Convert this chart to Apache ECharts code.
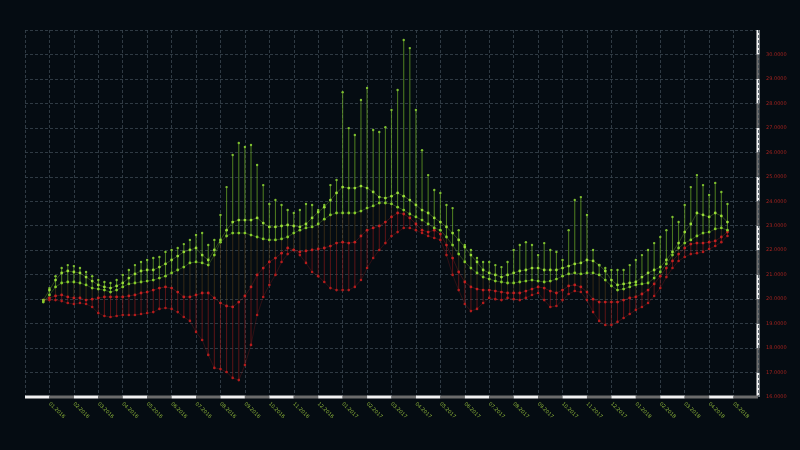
<!DOCTYPE html>
<html>
<head>
<meta charset="utf-8">
<script src="https://cdn.jsdelivr.net/npm/echarts@6/dist/echarts.min.js"></script>
<style>
html,body{margin:0;padding:0;background:#050c12;}
#c{width:800px;height:450px;}
</style>
</head>
<body>
<div id="c"></div>
<script>
// x tick labels (one per vertical grid line, 4 samples per interval)
const tickLabels = ['01.2016','02.2016','03.2016','04.2016','05.2016','06.2016','07.2016','08.2016','09.2016','10.2016',
  '11.2016','12.2016','01.2017','02.2017','03.2017','04.2017','05.2017','06.2017','07.2017','08.2017',
  '09.2017','10.2017','11.2017','12.2017','01.2018','02.2018','03.2018','04.2018','05.2018'];
const samplesPerTick = 4;
const startIndex = 3;

// green spiky highs
const greenHigh = [19.96,20.45,20.94,21.27,21.39,21.35,21.27,21.11,20.94,20.78,
  20.70,20.66,20.78,20.99,21.19,21.39,21.52,21.60,21.68,21.72,
  21.93,22.01,22.09,22.25,22.42,22.62,22.70,22.21,22.42,23.44,
  24.58,25.89,26.38,26.22,26.30,25.48,24.66,23.89,24.05,23.85,
  23.64,23.52,23.64,23.89,23.85,23.64,23.85,24.66,24.87,28.46,
  26.99,26.71,28.14,28.63,26.91,26.83,27.03,27.73,28.55,30.59,
  30.26,27.73,26.09,25.07,24.46,24.34,23.85,23.72,22.82,22.21,
  22.01,21.68,21.52,21.52,21.39,21.31,21.52,22.01,22.21,22.33,
  22.21,21.80,22.29,22.01,21.93,21.60,22.82,24.05,24.17,23.44,
  22.01,21.39,21.27,21.19,21.19,21.19,21.39,21.60,21.80,22.01,
  22.29,22.54,22.82,23.36,23.15,23.85,24.58,25.07,24.66,24.26,
  24.75,24.38,23.89];
// upper green line
const greenUpper = [19.96,20.37,20.78,21.07,21.15,21.11,21.07,20.90,20.74,20.58,
  20.50,20.45,20.54,20.66,20.86,21.03,21.15,21.19,21.19,21.31,
  21.44,21.60,21.76,21.93,22.01,22.09,21.80,21.60,22.01,22.42,
  22.82,23.15,23.23,23.23,23.23,23.32,23.11,22.95,22.95,22.99,
  23.03,22.99,22.95,23.07,23.32,23.56,23.76,24.05,24.34,24.58,
  24.54,24.54,24.62,24.54,24.38,24.17,24.13,24.21,24.34,24.21,
  24.05,23.85,23.64,23.52,23.32,23.15,22.95,22.70,22.42,22.13,
  21.80,21.52,21.19,21.07,20.99,20.90,20.99,21.07,21.15,21.19,
  21.27,21.27,21.19,21.19,21.19,21.27,21.35,21.44,21.48,21.60,
  21.56,21.39,21.15,20.78,20.58,20.62,20.66,20.70,20.90,21.07,
  21.19,21.31,21.60,21.93,22.29,22.74,23.07,23.52,23.44,23.36,
  23.52,23.40,23.15];
// lower green line
const greenLower = [19.88,20.17,20.50,20.66,20.70,20.70,20.66,20.58,20.45,20.41,
  20.37,20.29,20.37,20.50,20.62,20.66,20.70,20.74,20.78,20.86,
  20.94,21.07,21.19,21.31,21.48,21.52,21.48,21.39,21.80,22.33,
  22.58,22.70,22.70,22.70,22.62,22.54,22.46,22.42,22.42,22.46,
  22.54,22.70,22.82,22.91,22.95,23.07,23.27,23.44,23.52,23.52,
  23.52,23.52,23.60,23.72,23.81,23.93,23.93,23.89,23.76,23.64,
  23.48,23.36,23.23,23.07,22.91,22.82,22.54,22.21,21.84,21.52,
  21.27,21.07,20.90,20.82,20.74,20.70,20.66,20.66,20.70,20.74,
  20.78,20.74,20.70,20.74,20.82,20.94,21.03,21.07,21.03,21.07,
  21.07,20.99,20.78,20.54,20.37,20.41,20.50,20.58,20.62,20.66,
  20.86,21.11,21.44,21.80,22.09,22.29,22.42,22.58,22.70,22.74,
  22.87,22.91,22.82];
// upper red line
const redUpper = [19.96,20.05,20.13,20.17,20.09,20.05,20.05,19.96,20.00,20.05,
  20.09,20.09,20.09,20.09,20.13,20.17,20.25,20.29,20.37,20.45,
  20.50,20.45,20.29,20.09,20.09,20.17,20.25,20.25,20.05,19.84,
  19.72,19.68,19.88,20.13,20.50,20.99,21.27,21.52,21.68,21.88,
  22.09,22.01,21.93,21.97,22.01,22.05,22.09,22.17,22.29,22.33,
  22.29,22.33,22.58,22.82,22.91,22.99,23.15,23.36,23.52,23.48,
  23.32,23.07,22.82,22.74,22.82,22.66,22.21,21.68,21.11,20.70,
  20.50,20.41,20.37,20.37,20.33,20.29,20.25,20.25,20.25,20.33,
  20.41,20.50,20.45,20.33,20.25,20.37,20.54,20.58,20.50,20.29,
  20.00,19.88,19.88,19.88,19.88,19.96,20.05,20.09,20.21,20.37,
  20.62,20.94,21.27,21.56,21.84,22.09,22.25,22.29,22.29,22.33,
  22.38,22.54,22.74];
// lower red line
const redLower = [19.92,19.96,19.96,19.92,19.84,19.80,19.84,19.80,19.68,19.43,
  19.31,19.27,19.31,19.35,19.35,19.35,19.39,19.43,19.47,19.60,
  19.64,19.60,19.47,19.27,19.11,18.66,18.33,17.72,17.19,17.14,
  17.02,16.78,16.69,17.31,18.13,19.35,20.09,20.58,20.99,21.52,
  21.84,22.01,21.80,21.48,21.11,20.94,20.70,20.45,20.37,20.37,
  20.37,20.50,20.78,21.27,21.68,22.01,22.29,22.58,22.74,22.91,
  22.91,22.82,22.70,22.58,22.50,22.42,21.80,20.99,20.37,19.80,
  19.51,19.60,19.84,20.05,20.00,19.96,20.05,20.00,19.96,20.05,
  20.17,20.25,19.96,19.68,19.72,19.96,20.21,20.33,20.29,19.96,
  19.47,19.11,18.94,18.94,19.07,19.23,19.39,19.56,19.68,19.84,
  20.13,20.45,20.90,21.27,21.56,21.72,21.84,21.88,21.93,22.05,
  22.17,22.33,22.58];

const yMin = 16, yMax = 31, yStep = 1;

const nCat = (tickLabels.length + 1) * samplesPerTick + 1;
const categories = [];
for (let i = 0; i < nCat; i++) {
  const k = i / samplesPerTick;
  categories.push(Number.isInteger(k) && k >= 1 && k <= tickLabels.length ? tickLabels[k - 1] : '');
}
const pairs = arr => arr.map((v, j) => [startIndex + j, v]);
const stems = greenHigh.map((v, j) => [startIndex + j, v, greenLower[j], redUpper[j], redLower[j]]);

const chart = echarts.init(document.getElementById('c'), null, {renderer: 'canvas'});
const dotLine = (name, arr, color, size, lineOpacity) => ({
  name, type: 'line', data: pairs(arr), xAxisIndex: 0, yAxisIndex: 0,
  symbol: 'circle', symbolSize: size, showAllSymbol: true, silent: true,
  itemStyle: {color: color},
  lineStyle: {color: color, width: 0.8, opacity: lineOpacity},
  z: 5, animation: false
});

chart.setOption({
  backgroundColor: '#050c12',
  animation: false,
  grid: [
    {left: 25, right: 42, top: 30, bottom: 53},
    {left: 25, right: 42, top: 395.5, height: 3},
    {left: 756.5, width: 3, top: 30, bottom: 53}
  ],
  xAxis: [
    {
      type: 'category', data: categories, boundaryGap: false, gridIndex: 0,
      axisLine: {show: false}, axisTick: {show: false},
      axisLabel: {
        interval: (i) => i % samplesPerTick === 0 && i > 0 && i < nCat - 1,
        rotate: -45, color: '#8fb83a', fontSize: 5, margin: 6, fontFamily: 'DejaVu Sans'
      },
      splitLine: {show: true, interval: (i) => i % samplesPerTick === 0,
        lineStyle: {color: '#3a4650', type: [3, 2], width: 0.8}}
    },
    {
      type: 'value', gridIndex: 1, min: 0, max: tickLabels.length + 1, interval: 1,
      axisLine: {show: false}, axisTick: {show: false}, axisLabel: {show: false},
      splitLine: {show: false},
      splitArea: {show: true, areaStyle: {color: ['#f2f2f2', '#6c6c6c']}}
    },
    {type: 'value', gridIndex: 2, show: false, min: 0, max: 1}
  ],
  yAxis: [
    {
      type: 'value', gridIndex: 0, position: 'right', min: yMin, max: yMax, interval: yStep,
      axisLine: {show: false}, axisTick: {show: false},
      axisLabel: {color: '#a3231f', fontSize: 5, margin: 8, fontFamily: 'DejaVu Sans',
        showMaxLabel: false, formatter: (v) => v.toFixed(4)},
      splitLine: {show: true, lineStyle: {color: '#3a4650', type: [3, 2], width: 0.8}}
    },
    {type: 'value', gridIndex: 1, show: false, min: 0, max: 1},
    {
      type: 'value', gridIndex: 2, min: 0, max: (yMax - yMin) / yStep, interval: 1,
      axisLine: {show: false}, axisTick: {show: false}, axisLabel: {show: false},
      splitLine: {show: false},
      splitArea: {show: true, areaStyle: {color: ['#f2f2f2', '#6c6c6c']}}
    }
  ],
  series: [
    {
      type: 'custom', xAxisIndex: 0, yAxisIndex: 0, data: stems, silent: true, z: 2,
      encode: {x: 0, y: [1, 2, 3, 4]},
      renderItem: function (params, api) {
        const x = api.value(0);
        const a = api.coord([x, api.value(1)]);
        const b = api.coord([x, api.value(2)]);
        const c = api.coord([x, api.value(3)]);
        const d = api.coord([x, api.value(4)]);
        return {
          type: 'group',
          children: [
            {type: 'line', shape: {x1: a[0], y1: a[1], x2: b[0], y2: b[1]},
              style: {stroke: 'rgba(120,190,40,0.6)', lineWidth: 1.1}},
            {type: 'line', shape: {x1: b[0], y1: b[1], x2: c[0], y2: c[1]},
              style: {stroke: 'rgba(100,70,25,0.45)', lineWidth: 1.1}},
            {type: 'line', shape: {x1: c[0], y1: c[1], x2: d[0], y2: d[1]},
              style: {stroke: 'rgba(150,25,25,0.55)', lineWidth: 1.1}}
          ]
        };
      }
    },
    dotLine('redLower', redLower, '#b41c1c', 2.6, 0.3),
    dotLine('redUpper', redUpper, '#c42020', 2.8, 0.35),
    dotLine('greenLower', greenLower, '#86cc2c', 2.8, 0.35),
    dotLine('greenUpper', greenUpper, '#9ade38', 2.8, 0.35),
    Object.assign(dotLine('greenHigh', greenHigh, '#7fc030', 2.4, 0), {lineStyle: {opacity: 0, width: 0}})
  ]
});
</script>
</body>
</html>
